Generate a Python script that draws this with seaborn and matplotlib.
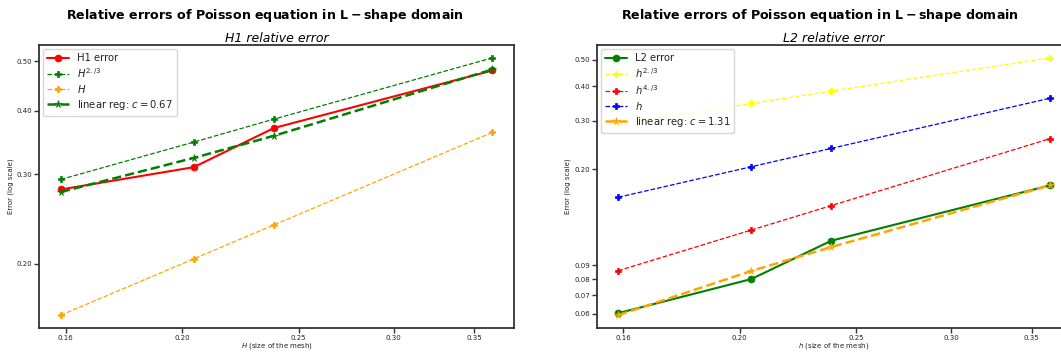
import matplotlib
matplotlib.use("Agg")
import matplotlib.pyplot as plt
import seaborn as sns
import numpy as np
import pandas as pd

# mesh sizes
h_vals = [0.1585, 0.2045, 0.2385, 0.3625]

# left panel (H1)
h1_error = [0.280, 0.3097, 0.3698, 0.4798]
h1_ref_23 = [0.293, 0.347, 0.385, 0.508]
h1_ref_1 = [0.1585, 0.2045, 0.2385, 0.3625]
h1_linreg = [0.2768, 0.323, 0.357, 0.482]

# right panel (L2)
l2_error = [0.0602, 0.0800, 0.1103, 0.175]
l2_ref_23 = [0.293, 0.347, 0.385, 0.508]
l2_ref_43 = [0.0858, 0.1205, 0.1479, 0.2585]
l2_ref_1 = [0.1585, 0.2045, 0.2385, 0.3625]
l2_linreg = [0.0592, 0.0856, 0.1046, 0.175]

x_ticks = [0.16, 0.20, 0.25, 0.30, 0.35]
left_yticks = [0.20, 0.30, 0.40, 0.50]
right_yticks = [0.06, 0.07, 0.08, 0.09, 0.20, 0.30, 0.40, 0.50]

sns.set_theme(style="ticks")
plt.rcParams['font.family'] = ['DejaVu Sans']
plt.rcParams['axes.edgecolor'] = '#333333'
plt.rcParams['axes.linewidth'] = 1.3
plt.rcParams['text.color'] = 'black'

W, H = 1061, 354
fig = plt.figure(figsize=(W / 100, H / 100), dpi=100)
axL = fig.add_axes([39.3 / W, (H - 328) / H, (514 - 39.3) / W, (328 - 45) / H])
axR = fig.add_axes([596.7 / W, (H - 328) / H, (514 - 39.3) / W, (328 - 45) / H])


def line(ax, y, color, ls, marker, lw, ms, label):
    df = pd.DataFrame({"h": h_vals, "err": y})
    sns.lineplot(data=df, x="h", y="err", ax=ax, color=color, linestyle=ls,
                 marker=marker, linewidth=lw, markersize=ms, label=label,
                 markeredgewidth=0.5, markeredgecolor=color)


line(axL, h1_error, "red", "-", "o", 1.5, 5, "H1 error")
line(axL, h1_ref_23, "green", "--", "P", 0.9, 5, r"$H^{2./3}$")
line(axL, h1_ref_1, "orange", "--", "P", 0.9, 5, r"$H$")
line(axL, h1_linreg, "green", "--", "*", 1.8, 5.5, r"linear reg: $c = 0.67$")

line(axR, l2_error, "green", "-", "o", 1.5, 5, "L2 error")
line(axR, l2_ref_23, "yellow", "--", "P", 0.9, 5, r"$h^{2./3}$")
line(axR, l2_ref_43, "red", "--", "P", 0.9, 5, r"$h^{4./3}$")
line(axR, l2_ref_1, "blue", "--", "P", 0.9, 5, r"$h$")
line(axR, l2_linreg, "orange", "--", "*", 1.8, 5.5, r"linear reg: $c = 1.31$")

for ax, yt, xl, tt in [(axL, left_yticks, r"$H$ (size of the mesh)", "H1 relative error"),
                       (axR, right_yticks, r"$h$ (size of the mesh)", "L2 relative error")]:
    ax.set_xscale("log")
    ax.set_yscale("log")
    ax.set_xticks(x_ticks)
    ax.set_xticklabels([f"{v:.2f}" for v in x_ticks])
    ax.set_yticks(yt)
    ax.set_yticklabels([f"{v:.2f}" for v in yt])
    ax.minorticks_off()
    ax.tick_params(axis="both", labelsize=5, length=3.5, width=1, pad=1.5, colors="#333333",
                   labelcolor="#222222")
    ax.set_xlabel(xl, fontsize=5, labelpad=0, color="#222222")
    ax.set_ylabel("Error (log scale)", fontsize=5, labelpad=2, color="#222222")
    ax.set_title(tt, fontsize=9, style="italic", pad=2, color="black")
    leg = ax.legend(loc="upper left", fontsize=7.2, handlelength=2.2, borderpad=0.4,
                    labelspacing=0.3, handletextpad=0.8, borderaxespad=0.4)
    for t in leg.get_texts():
        t.set_color("#222222")
    for s in ax.spines.values():
        s.set_visible(True)

title = r"Relative errors of Poisson equation in $\mathbf{L-shape}$ domain"
fig.text(265 / W, 1 - 15 / H, title, ha="center", va="center", fontsize=9.1,
         fontweight="bold", color="black")
fig.text(820 / W, 1 - 15 / H, title, ha="center", va="center", fontsize=9.1,
         fontweight="bold", color="black")

fig.savefig("out.png", dpi=100)
